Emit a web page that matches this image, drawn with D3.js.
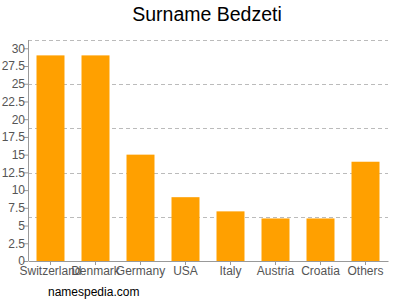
<!DOCTYPE html>
<html>
<head>
<meta charset="utf-8">
<script src="https://cdn.jsdelivr.net/npm/d3@7"></script>
<style>
body { margin: 0; background: #fff; }
text { font-family: "Liberation Sans", Arial, sans-serif; }
</style>
</head>
<body>
<script>
// surname counts per country
var countries = ["Switzerland", "Denmark", "Germany", "USA", "Italy", "Austria", "Croatia", "Others"];
var counts = [29, 29, 15, 9, 7, 6, 6, 14];
var yTicks = [0, 2.5, 5, 7.5, 10, 12.5, 15, 17.5, 20, 22.5, 25, 27.5, 30];

var width = 400;
var height = 300;
var plotLeft = 28, plotRight = 388, plotTop = 40, plotBottom = 261;

var svg = d3.select("body").append("svg")
    .attr("width", width)
    .attr("height", height);

var x = d3.scaleBand()
    .domain(countries)
    .range([plotLeft, plotRight])
    .paddingInner(0.378)
    .paddingOuter(0.189);

var y = d3.scaleLinear()
    .domain([0, 31.17])
    .range([plotBottom, plotTop]);

// grid: 5 even divisions of plot height
var gridY = d3.range(0, 5).map(function (i) { return plotTop + i * (plotBottom - plotTop) / 5; });
svg.selectAll(".grid").data(gridY).enter().append("line")
    .attr("x1", plotLeft)
    .attr("x2", plotRight)
    .attr("y1", function (d) { return Math.round(d) + 0.5; })
    .attr("y2", function (d) { return Math.round(d) + 0.5; })
    .attr("stroke", "#bbb")
    .attr("stroke-dasharray", "4,3");

svg.selectAll(".bar").data(counts).enter().append("rect")
    .attr("x", function (d, i) { return x(countries[i]); })
    .attr("width", x.bandwidth())
    .attr("y", function (d) { return y(d); })
    .attr("height", function (d) { return plotBottom - y(d); })
    .attr("fill", "#ffa000");

var yAxis = svg.append("g")
    .attr("transform", "translate(" + plotLeft + ",0)")
    .call(d3.axisLeft(y).tickValues(yTicks).tickSize(4).tickFormat(d3.format("")));
yAxis.select(".domain").attr("d", "M0.5," + plotTop + "V" + plotBottom);

var xAxis = svg.append("g")
    .attr("transform", "translate(0," + plotBottom + ")")
    .call(d3.axisBottom(x).tickSize(4).tickSizeOuter(0));

svg.selectAll(".domain").attr("stroke", "#999");
svg.selectAll(".tick line").attr("stroke", "#999");
svg.selectAll(".tick text")
    .attr("fill", "#555")
    .style("font-size", "12px")
    .style("font-family", "Liberation Sans, Arial, sans-serif");
yAxis.selectAll(".tick text").attr("x", -3);
xAxis.selectAll(".tick text").attr("y", 5);

svg.append("text")
    .text("Surname Bedzeti")
    .attr("x", 207)
    .attr("y", 21)
    .attr("text-anchor", "middle")
    .style("font-size", "19.5px")
    .attr("fill", "#000");

svg.append("text")
    .text("namespedia.com")
    .attr("x", 48)
    .attr("y", 296)
    .style("font-size", "12px")
    .attr("fill", "#000");
</script>
</body>
</html>
